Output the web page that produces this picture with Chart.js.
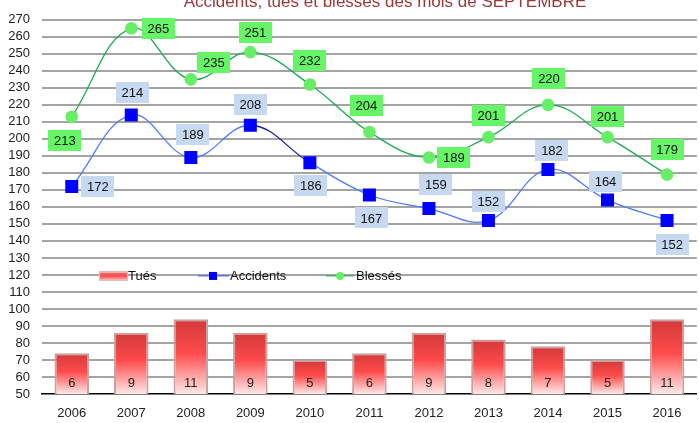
<!DOCTYPE html>
<html><head><meta charset="utf-8">
<script src="https://cdn.jsdelivr.net/npm/chart.js@4.4.0/dist/chart.umd.min.js"></script>
<style>
html,body{margin:0;padding:0;background:#fff;overflow:hidden;width:699px;height:423px;}
#wrap{position:absolute;left:0;top:0;width:706px;height:423px;}
</style></head><body>
<div id="wrap"><canvas id="c"></canvas></div>
<script>
// ---- data ----
const titleText = 'Accidents, tués et blessés des mois de SEPTEMBRE';
const years = ['2006','2007','2008','2009','2010','2011','2012','2013','2014','2015','2016'];
const tues = [6, 9, 11, 9, 5, 6, 9, 8, 7, 5, 11];
const accidents = [172, 214, 189, 208, 186, 167, 159, 152, 182, 164, 152];
const blesses = [213, 265, 235, 251, 232, 204, 189, 201, 220, 201, 179];
const yMin = 50, yMax = 270, yStep = 10;

// ---- label placement (style): box-centre offsets from each point, px ----
const accLabelOffsets = [[26,0],[1,-23],[2,-23],[0,-21],[1,23],[2,23],[7,-24],[0,-19],[4,-19],[-2,-19],[5,24]];
const blesLabelOffsets = [[-7,24],[27,0],[23,-17],[5,-20],[0,-24],[-3,-27],[25,0],[0,-22],[1,-26],[0,-21],[0,-25]];

const FONT = '"Liberation Sans", Arial, sans-serif';

function barGradient(c){
  const ch = c.chart;
  if (!ch.chartArea || c.dataIndex === undefined) return '#ff4d4d';
  const ys = ch.scales.y2;
  const top = ys.getPixelForValue(c.raw);
  const bot = ys.getPixelForValue(0);
  const g = ch.ctx.createLinearGradient(0, top, 0, bot);
  g.addColorStop(0, '#d23a3a');
  g.addColorStop(0.45, '#ff4a4a');
  g.addColorStop(1, '#ffe8e8');
  return g;
}

const overlay = {
  id: 'overlay',
  afterDatasetsDraw(chart){
    const ctx = chart.ctx;
    ctx.save();
    // bar value labels
    const barMeta = chart.getDatasetMeta(2);
    ctx.font = '13px ' + FONT;
    ctx.fillStyle = '#222';
    ctx.textAlign = 'center';
    ctx.textBaseline = 'middle';
    barMeta.data.forEach((el, i) => {
      ctx.fillText(String(tues[i]), el.x, chart.chartArea.bottom - 11);
    });
    // data label boxes
    const boxes = [[0, accLabelOffsets, '#c6d9f0', accidents],[1, blesLabelOffsets, '#66f566', blesses]];
    boxes.forEach(([di, offs, bg, vals]) => {
      const meta = chart.getDatasetMeta(di);
      meta.data.forEach((p, i) => {
        const cx = p.x + offs[i][0], cy = p.y + offs[i][1];
        const w = 33, h = 21;
        ctx.fillStyle = bg;
        ctx.fillRect(Math.round(cx - w/2), Math.round(cy - h/2), w, h);
        ctx.fillStyle = '#111';
        ctx.font = '13px ' + FONT;
        ctx.fillText(String(vals[i]), cx, cy + 1);
      });
    });
    // legend (inside plot)
    const yL = chart.scales.y.getPixelForValue(120) + 1;
    const ds = chart.data.datasets;
    ctx.textAlign = 'left';
    ctx.font = '13px ' + FONT;
    // Tués
    let g = ctx.createLinearGradient(0, yL - 4, 0, yL + 4);
    g.addColorStop(0, '#f07070'); g.addColorStop(0.5, '#ff4a4a'); g.addColorStop(1, '#ffb0b0');
    ctx.fillStyle = '#e8b8b8';
    ctx.fillRect(99, yL - 5, 29, 10);
    ctx.fillStyle = g;
    ctx.fillRect(100, yL - 3, 27, 6);
    ctx.fillStyle = '#111';
    ctx.fillText(ds[2].label, 128, yL);
    // Accidents
    ctx.strokeStyle = '#3a5cff'; ctx.lineWidth = 1;
    ctx.beginPath(); ctx.moveTo(198, yL); ctx.lineTo(229, yL); ctx.stroke();
    ctx.fillStyle = '#0000ff'; ctx.fillRect(209, yL - 4, 8, 8);
    ctx.fillStyle = '#111'; ctx.fillText(ds[0].label, 230, yL);
    // Blessés
    ctx.strokeStyle = '#1faa50';
    ctx.beginPath(); ctx.moveTo(326, yL); ctx.lineTo(354, yL); ctx.stroke();
    ctx.fillStyle = '#66ee66'; ctx.beginPath(); ctx.arc(340, yL, 4, 0, Math.PI*2); ctx.fill();
    ctx.fillStyle = '#111'; ctx.fillText(ds[1].label, 356, yL);
    // title (partly cut at top, as in the reference)
    ctx.textAlign = 'center';
    ctx.textBaseline = 'alphabetic';
    ctx.font = '17px ' + FONT;
    ctx.fillStyle = '#9b3838';
    ctx.fillText(titleText, 385, 7);
    ctx.restore();
  }
};

new Chart(document.getElementById('c'), {
  data: {
    labels: years,
    datasets: [
      {
        type: 'line', label: 'Accidents', data: accidents, yAxisID: 'y',
        borderColor: '#4f7bff', borderWidth: 1.3, tension: 0.4,
        pointStyle: 'rect', pointRadius: 9.2, pointBackgroundColor: '#0000ff',
        pointBorderWidth: 0, order: 1,
        segment: { borderColor: s => s.p0DataIndex === 3 ? '#1c1ca8' : undefined }
      },
      {
        type: 'line', label: 'Blessés', data: blesses, yAxisID: 'y',
        borderColor: '#1faa50', borderWidth: 1.3, tension: 0.4,
        pointStyle: 'circle', pointRadius: 6.3, pointBackgroundColor: '#66ee66',
        pointBorderWidth: 0, order: 2
      },
      {
        type: 'bar', label: 'Tués', data: tues, yAxisID: 'y2',
        backgroundColor: barGradient, borderColor: '#c9a0a0', borderWidth: 2,
        barPercentage: 0.58, categoryPercentage: 1, order: 3
      }
    ]
  },
  options: {
    responsive: true, maintainAspectRatio: false, animation: false,
    devicePixelRatio: 1,
    layout: { padding: { top: 14, left: 0, right: 0, bottom: 0 } },
    plugins: { legend: { display: false }, tooltip: { enabled: false }, title: { display: false } },
    scales: {
      x: {
        offset: true,
        grid: { display: false, drawTicks: false },
        border: { display: true, color: '#000', width: 1.5 },
        ticks: { color: '#222', font: { family: FONT, size: 13 }, padding: 12 },
        afterFit: s => { s.height = 29; }
      },
      y: {
        min: yMin, max: yMax,
        ticks: { stepSize: yStep, autoSkip: false, color: '#222', font: { family: FONT, size: 13 }, padding: 12 },
        grid: { color: c => c.tick && c.tick.value === yMin ? 'rgba(0,0,0,0)' : '#a4a4a4', lineWidth: 2, drawTicks: false },
        border: { display: false },
        afterFit: s => { s.width = 42; }
      },
      y2: { display: false, min: 0, max: 55 }
    }
  },
  plugins: [overlay]
});
</script>
</body></html>
